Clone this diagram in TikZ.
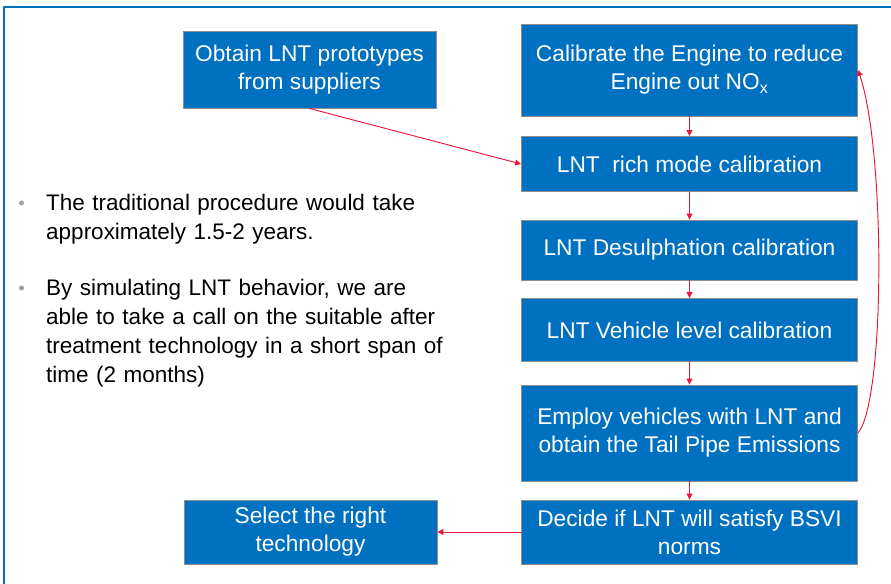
\documentclass[tikz,border=0pt]{standalone}
\usepackage{fontspec}
\setmainfont{Liberation Sans}
\usetikzlibrary{arrows.meta}

\definecolor{boxblue}{HTML}{0070C0}
\definecolor{arrowred}{HTML}{E8173A}
\definecolor{edgegray}{HTML}{8E8E8E}

\begin{document}
\begin{tikzpicture}[x=0.03cm, y=-0.03cm, line cap=round, line join=round]
  \tikzset{
    stepbox/.style={draw=edgegray, line width=0.8pt, fill=boxblue, text=white, align=center,
      inner sep=0pt, font=\fontsize{19.4pt}{23.8pt}\selectfont},
    flow/.style={draw=arrowred, line width=0.8pt, -{Triangle[width=5pt, length=5pt]}},
    note/.style={anchor=north west, inner sep=0pt, text width=13.5cm, align=left,
      font=\fontsize{19.2pt}{24.7pt}\selectfont},
    dot/.style={circle, fill=gray!75, inner sep=0pt, minimum size=0.15cm},
    frame/.style={draw=boxblue, line width=2.5pt}
  }

  \useasboundingbox (0,0) rectangle (891,583);

  % Slide frame (left and top edges only)
  \draw[frame] (4,590) -- (4,7) -- (900,7);

  % Box positions
  \coordinate (obtain_pos) at (309.5, 69.5);
  \coordinate (calib_pos)  at (689.5, 70);
  \coordinate (rich_pos)   at (689.5, 164);
  \coordinate (desul_pos)  at (689.5, 250);
  \coordinate (vehic_pos)  at (689.5, 330);
  \coordinate (employ_pos) at (689.5, 433);
  \coordinate (decide_pos) at (689.5, 532);
  \coordinate (select_pos) at (310.5, 532);

  % Left column boxes
  \node[stepbox, minimum width=7.59cm, minimum height=2.31cm] (obtain) at (obtain_pos)
    {Obtain LNT prototypes\\from suppliers};
  \node[stepbox, minimum width=7.59cm, minimum height=1.92cm] (select) at (select_pos)
    {Select the right\\technology};

  % Right column boxes
  \node[stepbox, minimum width=10.08cm, minimum height=2.76cm] (calib) at (calib_pos)
    {Calibrate the Engine to reduce\\Engine out NO\textsubscript{x}};
  \node[stepbox, minimum width=10.08cm, minimum height=1.65cm] (rich) at (rich_pos)
    {LNT~ rich mode calibration};
  \node[stepbox, minimum width=10.08cm, minimum height=1.80cm] (desul) at (desul_pos)
    {LNT Desulphation calibration};
  \node[stepbox, minimum width=10.08cm, minimum height=1.89cm] (vehic) at (vehic_pos)
    {LNT Vehicle level calibration};
  \node[stepbox, minimum width=10.08cm, minimum height=2.88cm] (employ) at (employ_pos)
    {Employ vehicles with LNT and\\obtain the Tail Pipe Emissions};
  \node[stepbox, minimum width=10.08cm, minimum height=1.92cm] (decide) at (decide_pos)
    {Decide if LNT will satisfy BSVI\\norms};

  % Bullet points
  \node[dot] (dot1) at (21.5, 203) {};
  \node[note] (pt1) at (46, 194)
    {The traditional procedure would take\\approximately 1.5-2 years.};
  \node[dot] (dot2) at (21.5, 288) {};
  \node[note] (pt2) at (46, 279)
    {By simulating LNT behavior, we are\\able to take a call on the suitable after\\treatment technology in a short span of\\time (2 months)};

  % Connectors
  \draw[flow] (obtain.south) -- (rich.west);
  \draw[flow] (calib) -- (rich);
  \draw[flow] (rich) -- (desul);
  \draw[flow] (desul) -- (vehic);
  \draw[flow] (vehic) -- (employ);
  \draw[flow] (employ) -- (decide);
  \draw[flow] (decide) -- (select);

  % Loop back to the engine calibration
  \draw[flow] (employ.east) .. controls +(27.5,-33) and +(27.5,80) .. (calib.east);

\end{tikzpicture}
\end{document}
